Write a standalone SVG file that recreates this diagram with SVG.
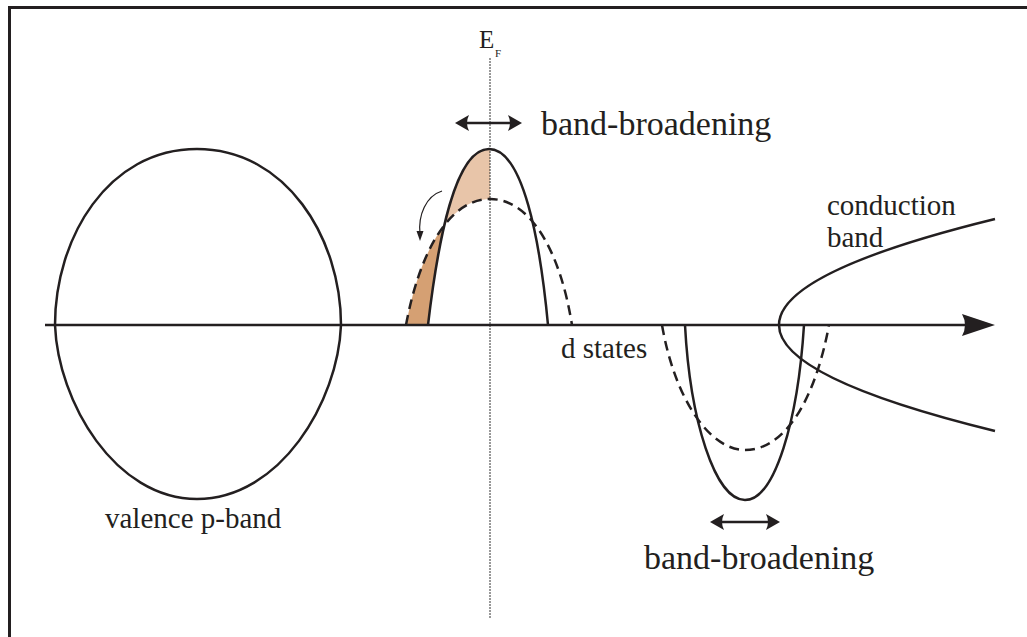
<svg xmlns="http://www.w3.org/2000/svg" width="1027" height="637" viewBox="0 0 1027 637">
<style>
.ln{fill:none;stroke:#231f20;stroke-width:2.5}
.ds{fill:none;stroke:#231f20;stroke-width:2.5;stroke-dasharray:10 6}
.tx{font-family:"Liberation Serif","Times New Roman",serif;fill:#231f20}
.hd{fill:#231f20}
</style>
<defs>
<clipPath id="left"><rect x="0" y="0" width="490" height="325"/></clipPath>
<clipPath id="solidClip"><path d="M428,325 C438,240 455,149 489,149 C523,149 540,240 548,325 Z"/></clipPath>
</defs>
<rect width="1027" height="637" fill="#fff"/>
<g id="frame"><path d="M9.5,637 V7.5 H1027" fill="none" stroke="#231f20" stroke-width="3"/></g>
<g id="shading">
<g clip-path="url(#left)">
<path d="M406,325 C420,250 450,199 490,199 C530,199 560,250 572,325 Z" fill="#d5a073"/>
<path d="M428,325 C438,240 455,149 489,149 C523,149 540,240 548,325 Z" fill="#e8c5a9"/>
<path d="M406,325 C420,250 450,199 490,199 C530,199 560,250 572,325 Z" fill="#fff" clip-path="url(#solidClip)"/>
</g>
</g>
<g id="ef-line"><line x1="490" y1="58" x2="490" y2="618" stroke="#333" stroke-width="1" stroke-dasharray="2 1"/></g>
<g id="valence-band"><path class="ln" d="M55,325 C55,238 108,149 197,149 C286,149 341,238 341,325 C338,402 280,499 197,499 C115,499 58,402 55,325 Z"/></g>
<g id="d-band-upper">
<path class="ln" d="M428,325 C438,240 455,149 489,149 C523,149 540,240 548,325"/>
<path class="ds" d="M406,325 C420,250 450,199 490,199 C530,199 560,250 572,325"/>
</g>
<g id="d-band-lower">
<path class="ln" d="M685,325 C690,420 715,500 745,500 C775,500 798,420 804,325"/>
<path class="ds" d="M662,325 C675,400 710,450 745,450 C785,450 815,400 829,325"/>
</g>
<g id="conduction-band"><path class="ln" d="M995,219 Q779,272 779,325 Q779,378 995,431"/></g>
<g id="connectors">
<line x1="45" y1="325" x2="968" y2="325" stroke="#231f20" stroke-width="2.5"/>
<path class="hd" d="M995,325 L962,314 Q968,325 962,336 Z"/>
<path d="M442,191 C426,196 418,215 420,234" fill="none" stroke="#231f20" stroke-width="1.2"/>
<path class="hd" d="M420,241 L416.5,231 L423.5,231 Z"/>
<line x1="462" y1="123" x2="515" y2="123" stroke="#231f20" stroke-width="2.5"/>
<path class="hd" d="M455,123 L469,115 Q465,123 469,131 Z"/>
<path class="hd" d="M522,123 L508,115 Q512,123 508,131 Z"/>
<line x1="717" y1="522" x2="773" y2="522" stroke="#231f20" stroke-width="2.5"/>
<path class="hd" d="M710,522 L724,514 Q720,522 724,530 Z"/>
<path class="hd" d="M780,522 L766,514 Q770,522 766,530 Z"/>
</g>
<g id="labels">
<text class="tx" x="479" y="48" font-size="25">E</text>
<text class="tx" x="495" y="57" font-size="11">F</text>
<text class="tx" x="541" y="135" font-size="34">band-broadening</text>
<text class="tx" x="644" y="569" font-size="34">band-broadening</text>
<text class="tx" x="561" y="358" font-size="29">d states</text>
<text class="tx" x="105" y="528" font-size="29">valence p-band</text>
<text class="tx" x="827" y="215" font-size="29">conduction</text>
<text class="tx" x="827" y="247" font-size="29">band</text>
</g>
</svg>
